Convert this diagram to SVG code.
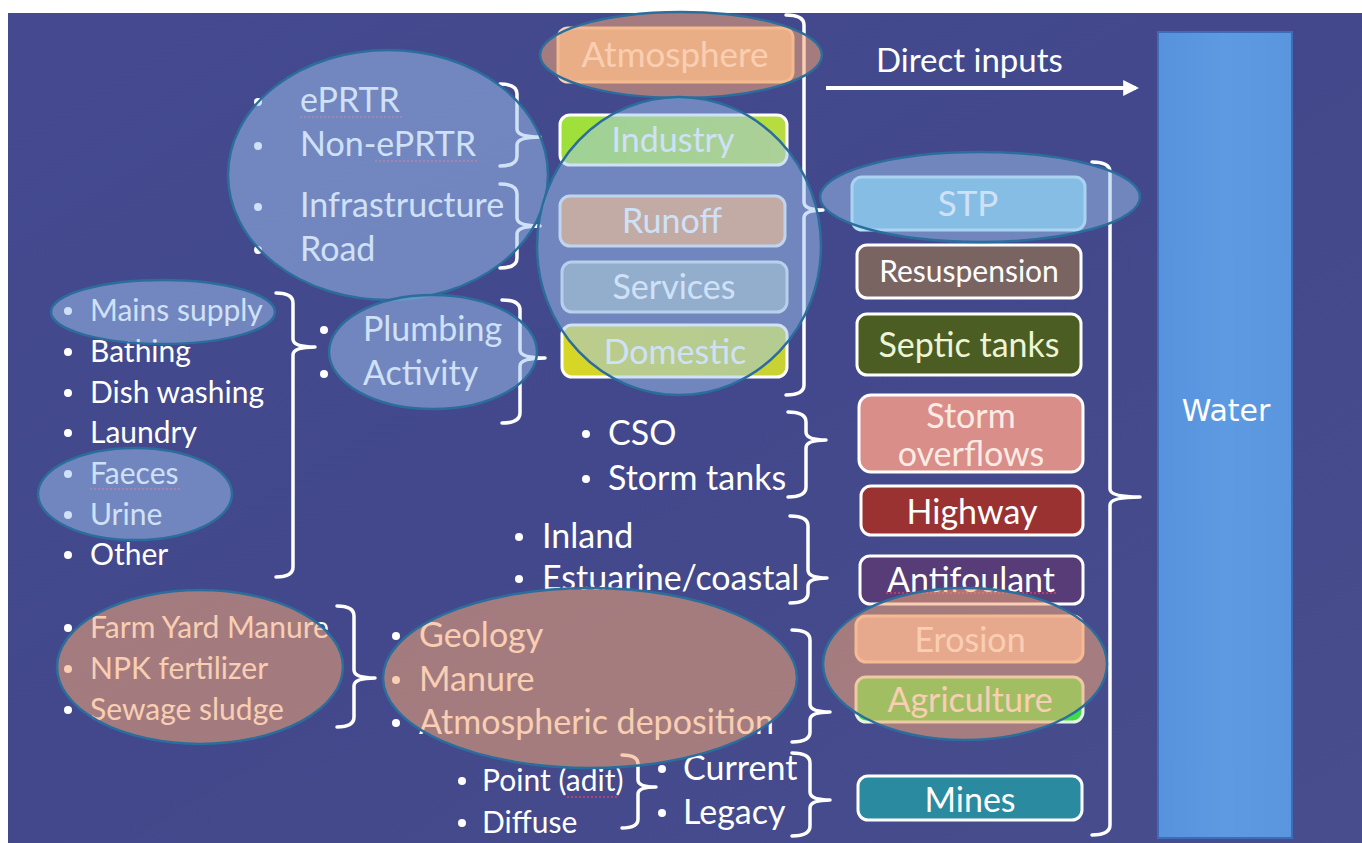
<svg xmlns="http://www.w3.org/2000/svg" width="1362" height="843" viewBox="0 0 1362 843">
  <defs>
    <linearGradient id="bgGrad" x1="0" y1="0" x2="1" y2="1">
      <stop offset="0" stop-color="#454a90"/>
      <stop offset="0.5" stop-color="#42488b"/>
      <stop offset="1" stop-color="#484d8d"/>
    </linearGradient>
    <linearGradient id="waterGrad" x1="0" y1="0" x2="1" y2="0">
      <stop offset="0" stop-color="#5792dc"/>
      <stop offset="0.5" stop-color="#5d9ae2"/>
      <stop offset="1" stop-color="#5a96de"/>
    </linearGradient>
    <linearGradient id="industryGrad" x1="0" y1="0" x2="1" y2="0">
      <stop offset="0" stop-color="#9ee03a"/>
      <stop offset="1" stop-color="#b8dc40"/>
    </linearGradient>
    <linearGradient id="domesticGrad" x1="0" y1="0" x2="1" y2="0">
      <stop offset="0" stop-color="#d8d626"/>
      <stop offset="1" stop-color="#c8d234"/>
    </linearGradient>
    <marker id="arrowHead" viewBox="0 0 10 10" refX="8" refY="5" markerWidth="4" markerHeight="4" orient="auto" markerUnits="strokeWidth">
      <path d="M0,0 L10,5 L0,10 z" fill="#ffffff"/>
    </marker>
    <style>
      text { font-family: "Lato", "Liberation Sans", sans-serif; fill: #ffffff; }
      .lbl { font-size: 34px; text-anchor: middle; dominant-baseline: central; }
      .item { font-size: 34px; }
      .small { font-size: 30px; }
      .box { stroke: #ffffff; stroke-width: 3; }
      .brace { fill: none; stroke: #ffffff; stroke-width: 3.5; stroke-linecap: round; stroke-linejoin: round; }
      .bullet { fill: #ffffff; }
      .spell { fill: none; stroke: #d8405e; stroke-width: 1.3; stroke-dasharray: 2 2; }
      .hl-blue { fill: rgb(160,196,240); fill-opacity: 0.5; stroke: #2b6d9c; stroke-width: 2.5; }
      .hl-brown { fill: rgb(244,166,117); fill-opacity: 0.55; stroke: #2b6d9c; stroke-width: 2.5; }
    </style>
  </defs>

  <!-- slide background -->
  <rect x="0" y="0" width="1362" height="843" fill="#ffffff"/>
  <rect x="8" y="13" width="1354" height="830" fill="url(#bgGrad)"/>

  <!-- receiving water -->
  <g id="water">
    <rect x="1158" y="32" width="134" height="806" fill="url(#waterGrad)" stroke="#3e6cb8" stroke-width="2"/>
    <text x="1226" y="410" style="font-family:'DejaVu Sans','Liberation Sans',sans-serif;font-size:30px" text-anchor="middle" dominant-baseline="central">Water</text>
  </g>

  <!-- braces and arrow -->
  <g id="connectors">
    <path class="brace" d="M500,84 Q517,84 517,94 L517,129 Q517,137 540,137 Q517,137 517,145 L517,156 Q517,166 500,166"/>
    <path class="brace" d="M500,184 Q517,184 517,194 L517,218 Q517,226 540,226 Q517,226 517,234 L517,258 Q517,268 500,268"/>
    <path class="brace" d="M276,293 Q293,293 293,303 L293,339 Q293,347 315,347 Q293,347 293,355 L293,567 Q293,577 276,577"/>
    <path class="brace" d="M502,300 Q520,300 520,310 L520,350 Q520,358 545,358 Q520,358 520,366 L520,413 Q520,423 502,423"/>
    <path class="brace" d="M786,15 Q804,15 804,25 L804,202 Q804,210 823,210 Q804,210 804,218 L804,385 Q804,395 786,395"/>
    <path class="brace" d="M788,412 Q806,412 806,422 L806,432 Q806,440 826,440 Q806,440 806,448 L806,487 Q806,497 788,497"/>
    <path class="brace" d="M790,516 Q808,516 808,526 L808,570 Q808,578 827,578 Q808,578 808,586 L808,593 Q808,603 790,603"/>
    <path class="brace" d="M337,606 Q354,606 354,616 L354,670 Q354,678 375,678 Q354,678 354,686 L354,717 Q354,727 337,727"/>
    <path class="brace" d="M792,630 Q810,630 810,640 L810,704 Q810,712 830,712 Q810,712 810,720 L810,732 Q810,742 792,742"/>
    <path class="brace" d="M622,755 Q638,755 638,764 L638,780 Q638,787 656,787 Q638,787 638,794 L638,819 Q638,828 622,828"/>
    <path class="brace" d="M792,753 Q810,753 810,763 L810,792 Q810,800 830,800 Q810,800 810,808 L810,826 Q810,836 792,836"/>
    <path class="brace" d="M1092,162 Q1110,162 1110,172 L1110,489 Q1110,497 1140,497 Q1110,497 1110,505 L1110,825 Q1110,835 1092,835"/>
    <line x1="826" y1="88" x2="1136" y2="88" stroke="#ffffff" stroke-width="4" marker-end="url(#arrowHead)"/>
    <text x="876" y="72" style="font-size:33px">Direct inputs</text>
  </g>

  <!-- industrial and road sub-sources -->
  <g id="industry-sources">
    <circle class="bullet" cx="258" cy="102" r="4"/>
    <circle class="bullet" cx="258" cy="146" r="4"/>
    <text class="item" x="300" y="112">ePRTR</text>
    <text class="item" x="300" y="156">Non-ePRTR</text>
    <path class="spell" d="M300,117 L404,117"/>
    <path class="spell" d="M375,161 L478,161"/>
  </g>
  <g id="road-sources">
    <circle class="bullet" cx="258" cy="207" r="4"/>
    <circle class="bullet" cx="258" cy="250" r="4"/>
    <text class="item" x="300" y="217">Infrastructure</text>
    <text class="item" x="300" y="261">Road</text>
  </g>

  <!-- household activities -->
  <g id="household-activities">
    <circle class="bullet" cx="68" cy="311" r="4"/>
    <circle class="bullet" cx="68" cy="352" r="4"/>
    <circle class="bullet" cx="68" cy="393" r="4"/>
    <circle class="bullet" cx="68" cy="433" r="4"/>
    <circle class="bullet" cx="68" cy="474" r="4"/>
    <circle class="bullet" cx="68" cy="515" r="4"/>
    <circle class="bullet" cx="68" cy="555" r="4"/>
    <text class="small" x="90" y="321">Mains supply</text>
    <text class="small" x="90" y="362">Bathing</text>
    <text class="small" x="90" y="403">Dish washing</text>
    <text class="small" x="90" y="443">Laundry</text>
    <text class="small" x="90" y="484">Faeces</text>
    <text class="small" x="90" y="525">Urine</text>
    <text class="small" x="90" y="565">Other</text>
    <path class="spell" d="M90,489 L180,489"/>
  </g>
  <g id="domestic-sources">
    <circle class="bullet" cx="324" cy="330" r="4"/>
    <circle class="bullet" cx="324" cy="374" r="4"/>
    <text class="item" x="363" y="341">Plumbing</text>
    <text class="item" x="363" y="385">Activity</text>
  </g>

  <!-- storm and shipping sub-sources -->
  <g id="storm-sources">
    <circle class="bullet" cx="586" cy="434" r="4"/>
    <circle class="bullet" cx="586" cy="479" r="4"/>
    <text class="item" x="608" y="445">CSO</text>
    <text class="item" x="608" y="490">Storm tanks</text>
  </g>
  <g id="antifoulant-sources">
    <circle class="bullet" cx="519" cy="537" r="4"/>
    <circle class="bullet" cx="519" cy="579" r="4"/>
    <text class="item" x="542" y="548">Inland</text>
    <text class="item" x="542" y="590">Estuarine/coastal</text>
  </g>

  <!-- agricultural sources -->
  <g id="fertilizer-sources">
    <circle class="bullet" cx="68" cy="628" r="4"/>
    <circle class="bullet" cx="68" cy="669" r="4"/>
    <circle class="bullet" cx="68" cy="710" r="4"/>
    <text class="small" x="90" y="638">Farm Yard Manure</text>
    <text class="small" x="90" y="679">NPK fertilizer</text>
    <text class="small" x="90" y="720">Sewage sludge</text>
  </g>
  <g id="erosion-sources">
    <circle class="bullet" cx="396" cy="636" r="4"/>
    <circle class="bullet" cx="396" cy="680" r="4"/>
    <circle class="bullet" cx="396" cy="723" r="4"/>
    <text class="item" x="419" y="647">Geology</text>
    <text class="item" x="419" y="691">Manure</text>
    <text class="item" x="419" y="734">Atmospheric deposition</text>
  </g>

  <!-- mining sources -->
  <g id="mine-discharge">
    <circle class="bullet" cx="462" cy="781" r="4"/>
    <circle class="bullet" cx="462" cy="823" r="4"/>
    <text class="small" x="482" y="791">Point (adit)</text>
    <text class="small" x="482" y="833">Diffuse</text>
    <path class="spell" d="M567,797 L618,797"/>
  </g>
  <g id="mine-age">
    <circle class="bullet" cx="662" cy="769" r="4"/>
    <circle class="bullet" cx="662" cy="813" r="4"/>
    <text class="item" x="683" y="780">Current</text>
    <text class="item" x="683" y="824">Legacy</text>
  </g>

  <!-- pathway boxes, middle column -->
  <g id="atmosphere">
    <rect x="558" y="28" width="235" height="54" rx="10" fill="#dcb89c" stroke="#f4d4b4" stroke-width="3"/>
    <text class="lbl" x="675" y="53" style="font-size:35px">Atmosphere</text>
  </g>
  <g id="industry">
    <rect x="560" y="115" width="227" height="50" rx="10" fill="url(#industryGrad)" class="box"/>
    <text class="lbl" x="673" y="138">Industry</text>
  </g>
  <g id="runoff">
    <rect x="560" y="196" width="225" height="50" rx="10" fill="#e4925a" stroke="#dfe6ee" stroke-width="3"/>
    <text class="lbl" x="672" y="219">Runoff</text>
  </g>
  <g id="services">
    <rect x="562" y="262" width="225" height="50" rx="10" fill="#8498a8" stroke="#d0dce6" stroke-width="3"/>
    <text class="lbl" x="674" y="285">Services</text>
  </g>
  <g id="domestic">
    <rect x="562" y="325" width="225" height="52" rx="10" fill="url(#domesticGrad)" class="box"/>
    <text class="lbl" x="675" y="350">Domestic</text>
  </g>

  <!-- pathway boxes, right column -->
  <g id="stp">
    <rect x="852" y="177" width="233" height="53" rx="10" fill="#6cb6d8" stroke="#b4e2f2" stroke-width="3"/>
    <text class="lbl" x="968" y="202" style="font-size:35px">STP</text>
  </g>
  <g id="resuspension">
    <rect x="857" y="245" width="224" height="53" rx="10" fill="#7a6462" class="box"/>
    <text class="lbl" x="969" y="270" style="font-size:30px">Resuspension</text>
  </g>
  <g id="septic-tanks">
    <rect x="857" y="314" width="224" height="61" rx="10" fill="#4b5d22" class="box"/>
    <text class="lbl" x="969" y="343" style="fill:#eef4d6">Septic tanks</text>
  </g>
  <g id="storm-overflows">
    <rect x="859" y="395" width="224" height="77" rx="12" fill="#d98e8a" class="box"/>
    <text class="lbl" x="971" y="414" style="fill:#fbebe4">Storm</text>
    <text class="lbl" x="971" y="452" style="fill:#fbebe4">overflows</text>
  </g>
  <g id="highway">
    <rect x="861" y="486" width="222" height="49" rx="10" fill="#9b3232" class="box"/>
    <text class="lbl" x="972" y="510">Highway</text>
  </g>
  <g id="antifoulant">
    <rect x="860" y="556" width="223" height="48" rx="10" fill="#573c78" class="box"/>
    <text class="lbl" x="971" y="578">Antifoulant</text>
    <path class="spell" d="M886,593 L1056,593"/>
  </g>
  <g id="erosion">
    <rect x="856" y="616" width="227" height="46" rx="10" fill="#d8aeac" stroke="#f8d4b8" stroke-width="3"/>
    <text class="lbl" x="970" y="638">Erosion</text>
  </g>
  <g id="agriculture">
    <rect x="856" y="677" width="227" height="45" rx="10" fill="#3edc4c" stroke="#e8f4e0" stroke-width="3"/>
    <text class="lbl" x="970" y="698">Agriculture</text>
  </g>
  <g id="mines">
    <rect x="858" y="776" width="224" height="44" rx="10" fill="#2a8aa0" class="box"/>
    <text class="lbl" x="970" y="798">Mines</text>
  </g>

  <!-- highlight ellipses drawn over the sources -->
  <g id="highlights">
    <ellipse class="hl-brown" cx="681" cy="55" rx="141" ry="43"/>
    <ellipse class="hl-blue" cx="388" cy="175" rx="160" ry="125"/>
    <ellipse class="hl-blue" cx="679" cy="246" rx="142" ry="149"/>
    <ellipse class="hl-blue" cx="980" cy="197" rx="160" ry="45"/>
    <ellipse class="hl-blue" cx="163" cy="312" rx="112" ry="32"/>
    <ellipse class="hl-blue" cx="433" cy="352" rx="104" ry="57"/>
    <ellipse class="hl-blue" cx="135" cy="494" rx="97" ry="46"/>
    <ellipse class="hl-brown" cx="200" cy="667" rx="143" ry="77"/>
    <ellipse class="hl-brown" cx="590" cy="678" rx="207" ry="90"/>
    <ellipse class="hl-brown" cx="965" cy="664" rx="142" ry="76"/>
  </g>
</svg>
